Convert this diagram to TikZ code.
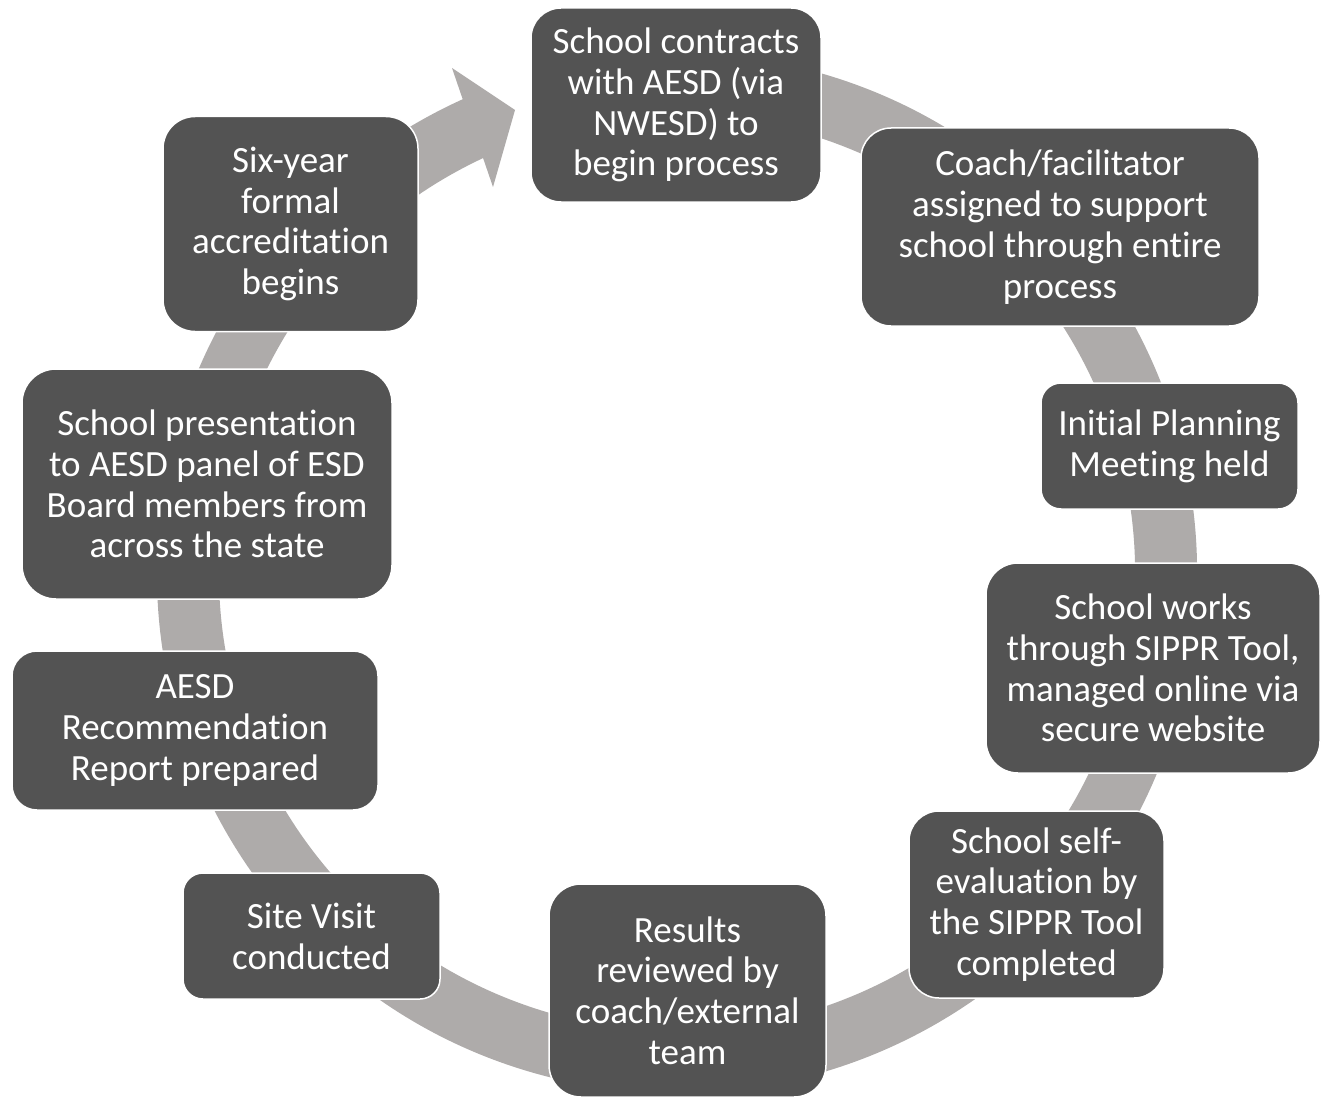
\documentclass[tikz,border=0pt]{standalone}
\usepackage{fontspec}
\setmainfont{Carlito}[RawFeature={-liga;-clig;-calt;-dlig}]
\usepackage{xcolor}
\definecolor{myring}{RGB}{174,171,170}
\definecolor{mybox}{RGB}{83,83,83}
\usepackage{tikz}

\begin{document}
\begin{tikzpicture}[x=1pt,y=1pt]
	\tikzstyle{stage}=[draw=white,line width=1.5pt,fill=mybox,text=white,align=center,inner sep=0pt,font=\fontsize{37}{40.8}\selectfont];
	\useasboundingbox (0,0) rectangle (1322,-1097);
	%% Ring
	\coordinate (c) at (677,-573);
	\fill[myring] ([shift={(c)}]80:520) arc[start angle=80,end angle=-245.66,radius=520]
		-- (452,-68) -- (515,-110) -- (493,-187)
		-- ([shift={(c)}]-244.95:458) arc[start angle=-244.95,end angle=80,radius=458] -- cycle;
	%% Stages
	\node[stage,minimum width=290pt,minimum height=194pt,rounded corners=30pt] (contract) at (676,-105) {School contracts\\with AESD (via\\NWESD) to\\begin process};
	\node[stage,minimum width=398pt,minimum height=198pt,rounded corners=30pt] (coach) at (1060,-227) {Coach/facilitator\\assigned to support\\school through entire\\process};
	\node[stage,minimum width=257pt,minimum height=126pt,rounded corners=20pt] (planning) at (1169.5,-446) {Initial Planning\\Meeting held};
	\node[stage,minimum width=334pt,minimum height=210pt,rounded corners=32pt] (sippr) at (1153,-668) {School works\\through SIPPR Tool,\\managed online via\\secure website};
	\node[stage,minimum width=255pt,minimum height=187pt,rounded corners=30pt] (selfeval) at (1036.5,-904.5) {School self-\\evaluation by\\the SIPPR Tool\\completed};
	\node[stage,minimum width=277pt,minimum height=213pt,rounded corners=32pt] (results) at (687.5,-990.5) {Results\\reviewed by\\coach/external\\team};
	\node[stage,minimum width=257pt,minimum height=126pt,rounded corners=20pt] (visit) at (311.5,-936) {Site Visit\\conducted};
	\node[stage,minimum width=366pt,minimum height=159pt,rounded corners=25pt] (report) at (195,-730.5) {AESD\\Recommendation\\Report prepared};
	\node[stage,minimum width=370pt,minimum height=230pt,rounded corners=34pt] (panel) at (207,-484) {School presentation\\to AESD panel of ESD\\Board members from\\across the state};
	\node[stage,minimum width=255pt,minimum height=215pt,rounded corners=32pt] (accredit) at (290.5,-224) {Six-year\\formal\\accreditation\\begins};
\end{tikzpicture}
\end{document}
